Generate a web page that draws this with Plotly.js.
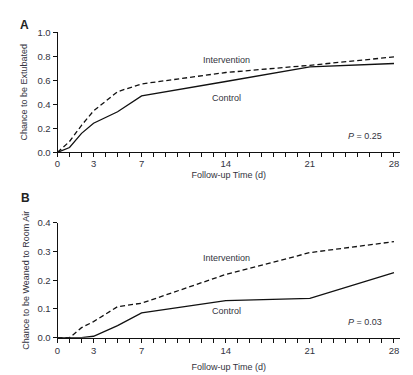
<!DOCTYPE html>
<html>
<head>
<meta charset="utf-8">
<script src="https://cdn.plot.ly/plotly-3.0.1.min.js"></script>
<style>
html,body{margin:0;padding:0;background:#fff;}
#chart{width:413px;height:375px;}
</style>
</head>
<body>
<div id="chart"></div>
<script>
// Panel A: chance to be extubated
const daysA = [0, 1, 2, 3, 5, 7, 14, 21, 28];
const interventionA = [0, 0.09, 0.225, 0.345, 0.505, 0.57, 0.665, 0.725, 0.795];
const controlA = [0, 0.04, 0.158, 0.242, 0.338, 0.47, 0.59, 0.712, 0.74];

// Panel B: chance to be weaned to room air
const daysBInt = [0, 1, 2, 3, 5, 7, 14, 21, 28];
const interventionB = [0, 0, 0.035, 0.056, 0.108, 0.12, 0.22, 0.296, 0.334];
const daysBCtl = [0, 1, 2, 3, 5, 7, 14, 21, 28];
const controlB = [0, 0, 0, 0.005, 0.042, 0.086, 0.129, 0.137, 0.226];

// Axis ticks
const dayTicks = Array.from({length: 29}, (_, i) => i);
const labeledDays = [0, 3, 7, 14, 21, 28];
const dayTickText = dayTicks.map(d => labeledDays.includes(d) ? String(d) : '');
const yTicksA = [0, 0.2, 0.4, 0.6, 0.8, 1.0];
const yTicksB = [0, 0.1, 0.2, 0.3, 0.4];

const seriesNames = ['Intervention', 'Control'];
const pLabels = ['<i>P</i> = 0.25', '<i>P</i> = 0.03'];
const panelLetters = ['A', 'B'];
const yTitles = ['Chance to be Extubated', 'Chance to be Weaned to Room Air'];
const xTitle = 'Follow-up Time (d)';

const txt = '#333340';
const font = 'Liberation Sans, Arial, sans-serif';
const dashed = {color: '#111', width: 1.3, dash: '5px,3px'};
const solid = {color: '#111', width: 1.3};

const traces = [
  {x: daysA, y: interventionA, mode: 'lines', line: dashed, name: seriesNames[0], xaxis: 'x', yaxis: 'y'},
  {x: daysA, y: controlA, mode: 'lines', line: solid, name: seriesNames[1], xaxis: 'x', yaxis: 'y'},
  {x: daysBInt, y: interventionB, mode: 'lines', line: dashed, name: seriesNames[0], xaxis: 'x2', yaxis: 'y2'},
  {x: daysBCtl, y: controlB, mode: 'lines', line: solid, name: seriesNames[1], xaxis: 'x2', yaxis: 'y2'}
];

const xDomain = [57.5 / 413, 400 / 413];
function xAxis(anchor, standoff, labelStandoff) {
  return {
    domain: xDomain, range: [0, 28.5], anchor: anchor,
    tickmode: 'array', tickvals: dayTicks, ticktext: dayTickText,
    ticks: 'outside', ticklen: 4, tickwidth: 1, tickcolor: '#111',
    ticklabelstandoff: labelStandoff,
    showline: true, linecolor: '#111', linewidth: 1,
    showgrid: false, zeroline: false, fixedrange: true,
    tickfont: {family: font, size: 9.5, color: txt},
    title: {text: xTitle, font: {family: font, size: 9, color: txt}, standoff: standoff}
  };
}
function yAxis(anchor, domain, range, vals, title, standoff) {
  return {
    domain: domain, range: range, anchor: anchor,
    tickmode: 'array', tickvals: vals, ticktext: vals.map(v => v.toFixed(1)),
    ticks: 'outside', ticklen: 4, tickwidth: 1, tickcolor: '#111',
    showline: true, linecolor: '#111', linewidth: 1,
    showgrid: false, zeroline: false, fixedrange: true,
    tickfont: {family: font, size: 9.5, color: txt},
    title: {text: title, font: {family: font, size: 9, color: txt}, standoff: standoff}
  };
}

const layout = {
  width: 413, height: 375,
  margin: {l: 0, r: 0, t: 0, b: 0},
  paper_bgcolor: '#fff', plot_bgcolor: '#fff',
  showlegend: false,
  font: {family: font, color: txt},
  xaxis: xAxis('y', 3, -2),
  yaxis: yAxis('x', [(375 - 152.3) / 375, (375 - 32.3) / 375], [0, 1], yTicksA, yTitles[0], 8),
  xaxis2: xAxis('y2', 8, 0),
  yaxis2: yAxis('x2', [(375 - 337.7) / 375, (375 - 222.7) / 375], [0, 0.4], yTicksB, yTitles[1], 6),
  annotations: [
    {xref: 'x', yref: 'y', x: 14.1, y: 0.77, text: seriesNames[0], showarrow: false, font: {size: 9, color: txt}},
    {xref: 'x', yref: 'y', x: 14.1, y: 0.455, text: seriesNames[1], showarrow: false, font: {size: 9, color: txt}},
    {xref: 'x', yref: 'y', x: 25.6, y: 0.136, text: pLabels[0], showarrow: false, font: {size: 9, color: txt}},
    {xref: 'x2', yref: 'y2', x: 14.1, y: 0.278, text: seriesNames[0], showarrow: false, font: {size: 9, color: txt}},
    {xref: 'x2', yref: 'y2', x: 14.1, y: 0.094, text: seriesNames[1], showarrow: false, font: {size: 9, color: txt}},
    {xref: 'x2', yref: 'y2', x: 25.6, y: 0.056, text: pLabels[1], showarrow: false, font: {size: 9, color: txt}},
    {xref: 'paper', yref: 'paper', x: 24.5 / 413, y: 1 - 25 / 375, xanchor: 'center', yanchor: 'middle', text: '<b>' + panelLetters[0] + '</b>', showarrow: false, font: {size: 12, color: '#222'}},
    {xref: 'paper', yref: 'paper', x: 25.5 / 413, y: 1 - 198 / 375, xanchor: 'center', yanchor: 'middle', text: '<b>' + panelLetters[1] + '</b>', showarrow: false, font: {size: 12, color: '#222'}}
  ]
};

Plotly.newPlot('chart', traces, layout, {displayModeBar: false, staticPlot: true});
</script>
</body>
</html>
